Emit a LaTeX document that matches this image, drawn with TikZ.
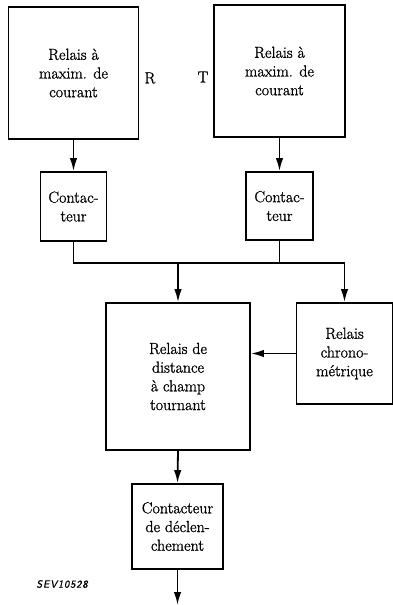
\documentclass[tikz,border=0pt]{standalone}
\usepackage{fontspec}
\newfontfamily\lblfont{Latin Modern Roman}[FakeBold=1.1]
\newfontfamily\sevfont{Latin Modern Sans}[FakeBold=1.2,FakeSlant=0.2,LetterSpace=8]
\usetikzlibrary{arrows.meta}
\begin{document}
\begin{tikzpicture}[x=1pt,y=-1pt,
  blk/.style={draw,line width=1.8pt,align=center,inner sep=0pt,font=\lblfont\fontsize{16}{18.7}\selectfont},
  conn/.style={line width=1.8pt},
  arr/.style={line width=1.8pt,-{Latex[length=13pt,width=7.5pt]}},
  lbl/.style={font=\lblfont\fontsize{16}{19}\selectfont,inner sep=0pt}]
\useasboundingbox (0,0) rectangle (393,605);
\node[blk,minimum width=130pt,minimum height=132pt] (r1) at (73.5,73) {Relais à\\maxim. de\\courant};
\node[blk,minimum width=131pt,minimum height=132pt] (r2) at (279.5,71) {Relais à\\maxim. de\\courant};
\node[lbl] (lR) at (150,78) {R};
\node[lbl] (lT) at (203,77) {T};
\node[blk,minimum width=66pt,minimum height=69pt] (c1) at (73.5,206.5) {Contac-\\teur};
\node[blk,minimum width=67pt,minimum height=68pt] (c2) at (279.5,206) {Contac-\\teur};
\node[blk,minimum width=144pt,minimum height=147pt] (main) at (178,376.5) {Relais de\\distance\\à champ\\tournant};
\node[blk,minimum width=96pt,minimum height=101pt] (chr) at (344.5,353.5) {Relais\\chrono-\\métrique};
\node[blk,minimum width=91pt,minimum height=85pt] (dec) at (177.5,526.5) {Contacteur\\de déclen-\\chement};
\node[font=\sevfont\fontsize{10.5}{12}\selectfont,inner sep=0pt] (sev) at (62,584) {SEV10528};
\coordinate (j1) at (73.5,263);
\coordinate (j2) at (178,263);
\coordinate (j3) at (344.5,263);
\coordinate (out) at (177.5,605);
\draw[arr] (r1.south) -- (c1.north);
\draw[arr] (r2.south) -- (c2.north);
\draw[conn] (c1.south) -- (j1) -- (j3);
\draw[conn] (c2.south) -- (c2.south |- j1);
\draw[arr] (j2) -- (main.north);
\draw[arr] (j3) -- (chr.north);
\draw[arr] (chr.west) -- (chr.west -| main.east);
\draw[arr] (main.south) -- (dec.north);
\draw[arr] (dec.south) -- (out);
\end{tikzpicture}
\end{document}
